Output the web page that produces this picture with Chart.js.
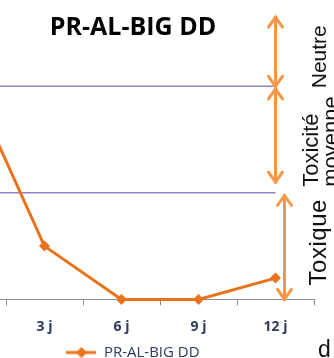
<!DOCTYPE html>
<html>
<head>
<meta charset="utf-8">
<script src="https://cdn.jsdelivr.net/npm/chart.js@4.4.1/dist/chart.umd.min.js"></script>
<style>
  html, body { margin: 0; padding: 0; background: #fff; }
  body { width: 334px; height: 358px; overflow: hidden; position: relative; }
  #wrap { position: absolute; left: -80px; top: 0; width: 422px; height: 370px; }
</style>
</head>
<body>
<div id="wrap"><canvas id="chart"></canvas></div>
<script>
// data (0 j is cropped out on the left)
const days = ['0 j', '3 j', '6 j', '9 j', '12 j'];
const prAlBig = [84, 20, 0, 0, 8];
const limitHigh = [80, 80, 80, 80, 80];
const limitLow = [40, 40, 40, 40, 40];

const zoneNames = ['Toxique', 'Toxicité', 'moyenne', 'Neutre'];
const zoneArrows = [[0, 39], [44, 79], [80, 106]];

const orange = '#e8731c';
const arrowOrange = '#f79646';
const purple = '#9180c6';

Chart.defaults.font.family = "'Open Sans', sans-serif";

// legend swatch: line with diamond
const swatch = document.createElement('canvas');
swatch.width = 30; swatch.height = 12;
(function () {
  const c = swatch.getContext('2d');
  c.strokeStyle = orange; c.fillStyle = orange; c.lineWidth = 3;
  c.beginPath(); c.moveTo(0, 6); c.lineTo(30, 6); c.stroke();
  c.beginPath(); c.moveTo(15, 0.5); c.lineTo(20.5, 6); c.lineTo(15, 11.5); c.lineTo(9.5, 6); c.closePath(); c.fill();
})();

function head(ctx, x, y, dir) {
  ctx.beginPath();
  ctx.moveTo(x - 7, y + dir * 10);
  ctx.lineTo(x, y);
  ctx.lineTo(x + 7, y + dir * 10);
  ctx.stroke();
}

function vtext(ctx, txt, x, y, font, spacing) {
  ctx.save();
  ctx.font = font;
  ctx.letterSpacing = spacing || '0px';
  ctx.translate(x, y);
  ctx.rotate(-Math.PI / 2);
  ctx.textAlign = 'left';
  ctx.textBaseline = 'alphabetic';
  ctx.fillText(txt, 0, 0);
  ctx.restore();
}

const zonesPlugin = {
  id: 'zones',
  afterDraw(chart) {
    const ctx = chart.ctx;
    const xs = chart.scales.x, ys = chart.scales.y;
    const right = chart.chartArea.right;
    const x12 = xs.getPixelForValue(days.length - 1);

    // arrows
    ctx.save();
    ctx.strokeStyle = arrowOrange;
    ctx.lineWidth = 3;
    ctx.lineCap = 'round';
    const arrowX = [x12 + 9, x12, x12];
    zoneArrows.forEach((z, i) => {
      const yb = ys.getPixelForValue(z[0]);
      const yt = ys.getPixelForValue(z[1]);
      ctx.beginPath(); ctx.moveTo(arrowX[i], yt); ctx.lineTo(arrowX[i], yb); ctx.stroke();
      head(ctx, arrowX[i], yt, 1);
      head(ctx, arrowX[i], yb, -1);
    });
    ctx.restore();

    // zone names
    ctx.save();
    ctx.fillStyle = '#111';
    const sans = "'Liberation Sans', Arial, sans-serif";
    vtext(ctx, zoneNames[3], right + 12, ys.getPixelForValue(80) + 2, '21px ' + sans);
    vtext(ctx, zoneNames[1], right + 4, ys.getPixelForValue(40) - 6, '22px ' + sans);
    vtext(ctx, zoneNames[2], right + 24, ys.getPixelForValue(40) - 6, '22px ' + sans);
    vtext(ctx, zoneNames[0], right + 12, ys.getPixelForValue(0) - 14, '24px ' + sans, '0.5px');
    ctx.font = '23px ' + sans;
    ctx.textAlign = 'left';
    ctx.textBaseline = 'alphabetic';
    ctx.fillText('d', right + 4, chart.chartArea.bottom + 58);
    ctx.restore();
  }
};

new Chart(document.getElementById('chart'), {
  type: 'line',
  data: {
    labels: days,
    datasets: [
      {
        label: 'PR-AL-BIG DD',
        data: prAlBig,
        borderColor: orange,
        backgroundColor: orange,
        borderWidth: 3,
        pointStyle: 'rectRot',
        pointRadius: 5.5,
        pointBorderWidth: 0,
        clip: false,
        tension: 0
      },
      {
        label: 'limit80',
        data: limitHigh,
        borderColor: purple,
        borderWidth: 1.5,
        pointRadius: 0
      },
      {
        label: 'limit40',
        data: limitLow,
        borderColor: purple,
        borderWidth: 1.5,
        pointRadius: 0
      }
    ]
  },
  options: {
    responsive: true,
    maintainAspectRatio: false,
    animation: false,
    events: [],
    layout: { padding: { left: 9, right: 5, top: 0, bottom: 0 } },
    plugins: {
      title: {
        display: true,
        text: 'PR-AL-BIG DD',
        color: '#000',
        font: { size: 25, weight: 'bold' },
        padding: { top: 13, bottom: -10 }
      },
      legend: {
        position: 'bottom',
        labels: {
          usePointStyle: true,
          pointStyle: swatch,
          pointStyleWidth: 30,
          color: '#2b3a5c',
          font: { size: 15 },
          padding: 4.6,
          filter: item => item.datasetIndex === 0
        }
      },
      tooltip: { enabled: false }
    },
    scales: {
      x: {
        offset: true,
        grid: { display: true, offset: true, drawOnChartArea: false, tickLength: 6, color: '#8c8c8c' },
        border: { color: '#8c8c8c', width: 1 },
        ticks: { color: '#2b3a5c', font: { size: 14, weight: 'bold' }, padding: 13.6 },
        afterFit(s) { s.height = 41; }
      },
      y: {
        position: 'right',
        min: 0,
        max: 100,
        grid: { display: false },
        border: { display: false },
        ticks: { display: false },
        afterFit(s) { s.width = 23; }
      }
    }
  },
  plugins: [zonesPlugin]
});
</script>
</body>
</html>
